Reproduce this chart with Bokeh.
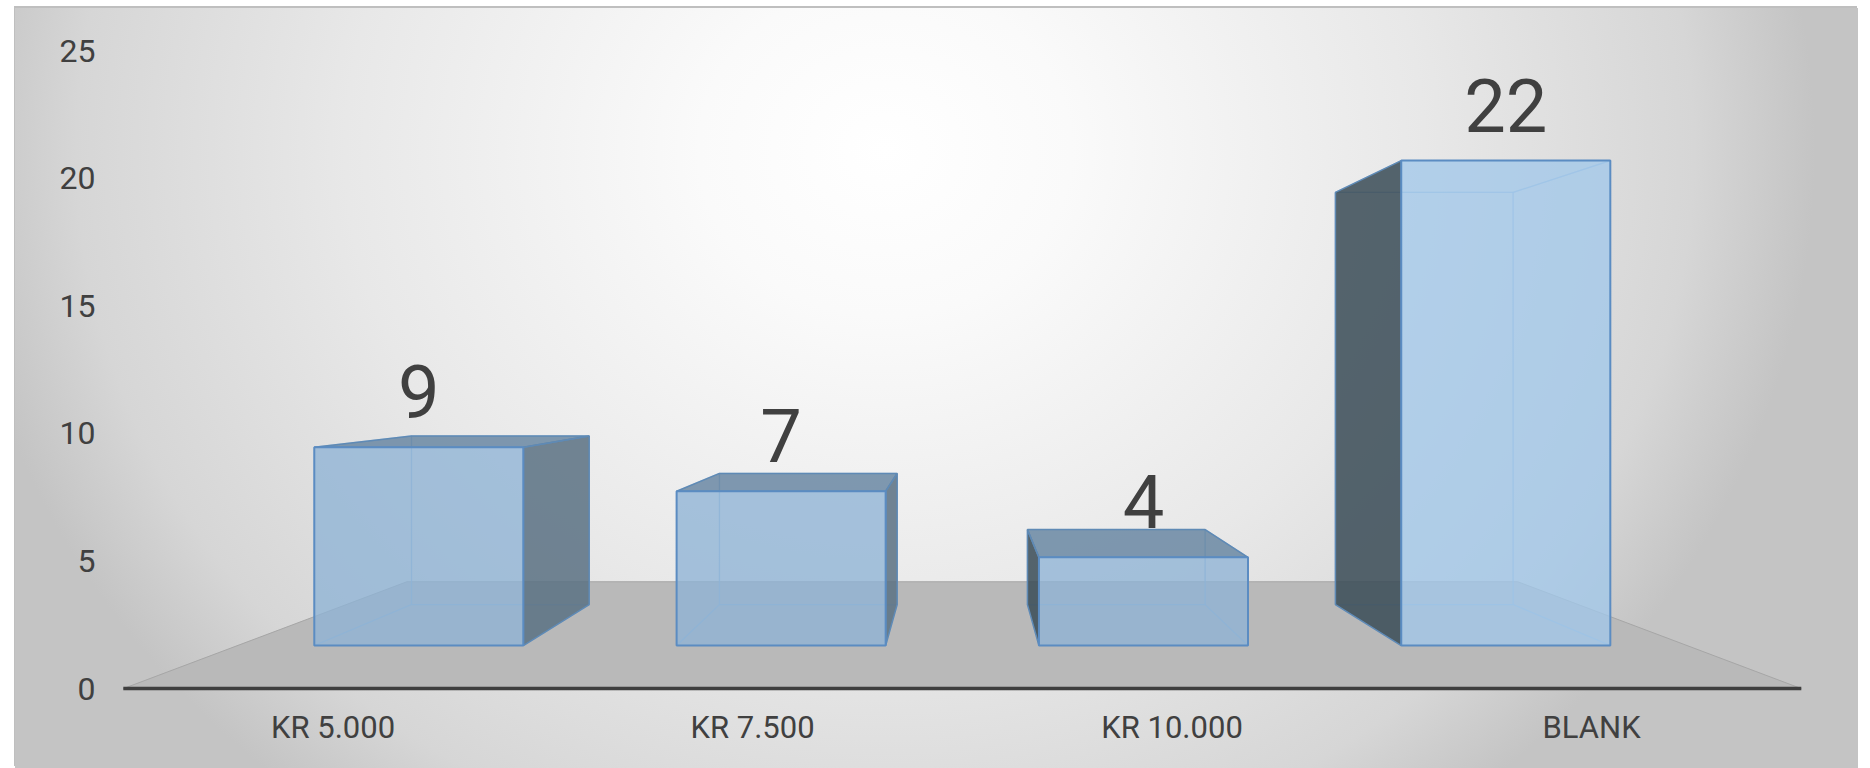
from bokeh.plotting import figure
from bokeh.models import Range1d, FixedTicker
from bokeh.embed import file_html
from bokeh.resources import INLINE
from bokeh.core.properties import value

# ---------------- data ----------------
categories = ["KR 5.000", "KR 7.500", "KR 10.000", "BLANK"]
counts = [9, 7, 4, 22]
y_tick_values = [0, 5, 10, 15, 20, 25]

# ---------------- layout (page pixels) ----------------
PAGE_LEFT, PAGE_TOP = 15, 8
FIG_W, FIG_H = 1843, 760
FRAME_L = 100
FRAME_B = 700
X_ORIGIN_PX, X_UNIT_PX = 122.8, 419.5     # front plane: x=-0.5 at X_ORIGIN_PX
Y_ORIGIN_PX, Y_UNIT_PX = 688.1, 25.52     # front plane: y=0 at Y_ORIGIN_PX


def px_to_x(px):
    return (px - X_ORIGIN_PX) / X_UNIT_PX - 0.5


def py_to_y(py):
    return (Y_ORIGIN_PX - py) / Y_UNIT_PX


x_range = Range1d(px_to_x(FRAME_L), px_to_x(PAGE_LEFT + FIG_W))
y_range = Range1d(py_to_y(FRAME_B), py_to_y(PAGE_TOP))

p = figure(width=FIG_W, height=FIG_H, x_range=x_range, y_range=y_range,
           output_backend="svg", toolbar_location=None,
           min_border_left=FRAME_L - PAGE_LEFT, min_border_right=0,
           min_border_top=0, min_border_bottom=PAGE_TOP + FIG_H - FRAME_B)
p.margin = (PAGE_TOP, 0, 0, PAGE_LEFT)
p.outline_line_color = None
p.grid.visible = False
p.border_fill_color = None
p.background_fill_color = None
# chart-area background: soft radial gradient (white centre, grey rim)
p.styles = {
    "background": "radial-gradient(ellipse 930px 830px at 870px 142px, "
                  "#ffffff 0%, #fafafa 20%, #e8e8e8 58%, #d6d6d6 87%, #c4c4c4 100%)",
    "box-shadow": "-1px -2px 0 0 #bfbfbf",
}

# ---------------- 3D projection ----------------
VX = 1.5
VY = py_to_y(372.0)
S_FRONT = 0.8637
S_BACK = S_FRONT * 0.85
S_FLOOR_BACK = 0.662
HALF_W = 0.2885
n = len(categories)


def proj(x, y, s):
    return VX + s * (x - VX), VY + s * (y - VY)


def poly(pts):
    return [q[0] for q in pts], [q[1] for q in pts]


# floor
fx0, fx1 = -0.5, n - 0.5
floor = [proj(fx0, 0, 1.0), proj(fx1, 0, 1.0), proj(fx1, 0, S_FLOOR_BACK), proj(fx0, 0, S_FLOOR_BACK)]
fxs, fys = poly(floor)
p.patch(fxs, fys, fill_color="#b9b9b9", line_color="#a6a6a6", line_width=1)
p.line([floor[0][0], floor[1][0]], [floor[0][1], floor[1][1]], line_color="#3f3f3f", line_width=3.5)

# bars
front_colors = ["#8eb3d5", "#8eb3d5", "#8eb3d5", "#a2c8ea"]
hid_xs, hid_ys = [], []
vis = {"right": ([], []), "left": ([], []), "top": ([], []), "front": ([], [])}
for i, v in enumerate(counts):
    x0, x1 = i - HALF_W, i + HALF_W
    F = lambda x, y: proj(x, y, S_FRONT)
    B = lambda x, y: proj(x, y, S_BACK)
    faces = {
        "back": [B(x0, 0), B(x1, 0), B(x1, v), B(x0, v)],
        "bottom": [F(x0, 0), F(x1, 0), B(x1, 0), B(x0, 0)],
        "left": [F(x0, 0), B(x0, 0), B(x0, v), F(x0, v)],
        "right": [F(x1, 0), B(x1, 0), B(x1, v), F(x1, v)],
        "top": [F(x0, v), F(x1, v), B(x1, v), B(x0, v)],
        "front": [F(x0, 0), F(x1, 0), F(x1, v), F(x0, v)],
    }
    visible = {"front"}
    if v < VY:
        visible.add("top")
    if x0 > VX:
        visible.add("left")
    if x1 < VX:
        visible.add("right")
    for name, pts in faces.items():
        xs, ys = poly(pts)
        if name in visible:
            vis[name][0].append(xs)
            vis[name][1].append(ys)
        else:
            hid_xs.append(xs)
            hid_ys.append(ys)

p.patches(hid_xs, hid_ys, fill_color="#9cc0e4", fill_alpha=0.06,
          line_color="#8db4dc", line_alpha=0.55, line_width=1.2)
p.patches(*vis["right"], fill_color="#5b7182", fill_alpha=0.85, line_color="#5f8ab5", line_width=1.5)
p.patches(*vis["left"], fill_color="#3a4b56", fill_alpha=0.85, line_color="#5f8ab5", line_width=1.5)
p.patches(*vis["top"], fill_color="#63829f", fill_alpha=0.8, line_color="#5f8ab5", line_width=1.5)
p.patches(xs=vis["front"][0], ys=vis["front"][1], fill_color=front_colors, fill_alpha=0.76,
          line_color="#5b8cc2", line_width=2)

# value labels
LABEL_GAP = 55.5 / Y_UNIT_PX
lx = [proj(i, v, S_FRONT)[0] for i, v in enumerate(counts)]
ly = [proj(i, v, S_FRONT)[1] + LABEL_GAP for i, v in enumerate(counts)]
p.text(x=lx, y=ly, text=[str(v) for v in counts], text_font=value("Roboto"),
       text_font_size="74px", text_color="#404040", text_align="center",
       text_baseline="alphabetic")

# axes
for ax in (p.xaxis[0], p.yaxis[0]):
    ax.axis_line_color = None
    ax.major_tick_line_color = None
    ax.minor_tick_line_color = None
    ax.major_tick_out = 0
    ax.major_tick_in = 0
    ax.major_label_text_font = "Roboto"
    ax.major_label_text_color = "#404040"

p.xaxis.ticker = FixedTicker(ticks=list(range(n)))
p.xaxis.major_label_overrides = {i: c for i, c in enumerate(categories)}
p.xaxis.major_label_text_font_size = "31px"
p.xaxis.major_label_standoff = 8

p.yaxis.ticker = FixedTicker(ticks=y_tick_values)
p.yaxis.major_label_text_font_size = "32px"
p.yaxis.major_label_standoff = 5

open("out.html", "w").write(file_html(p, INLINE))
